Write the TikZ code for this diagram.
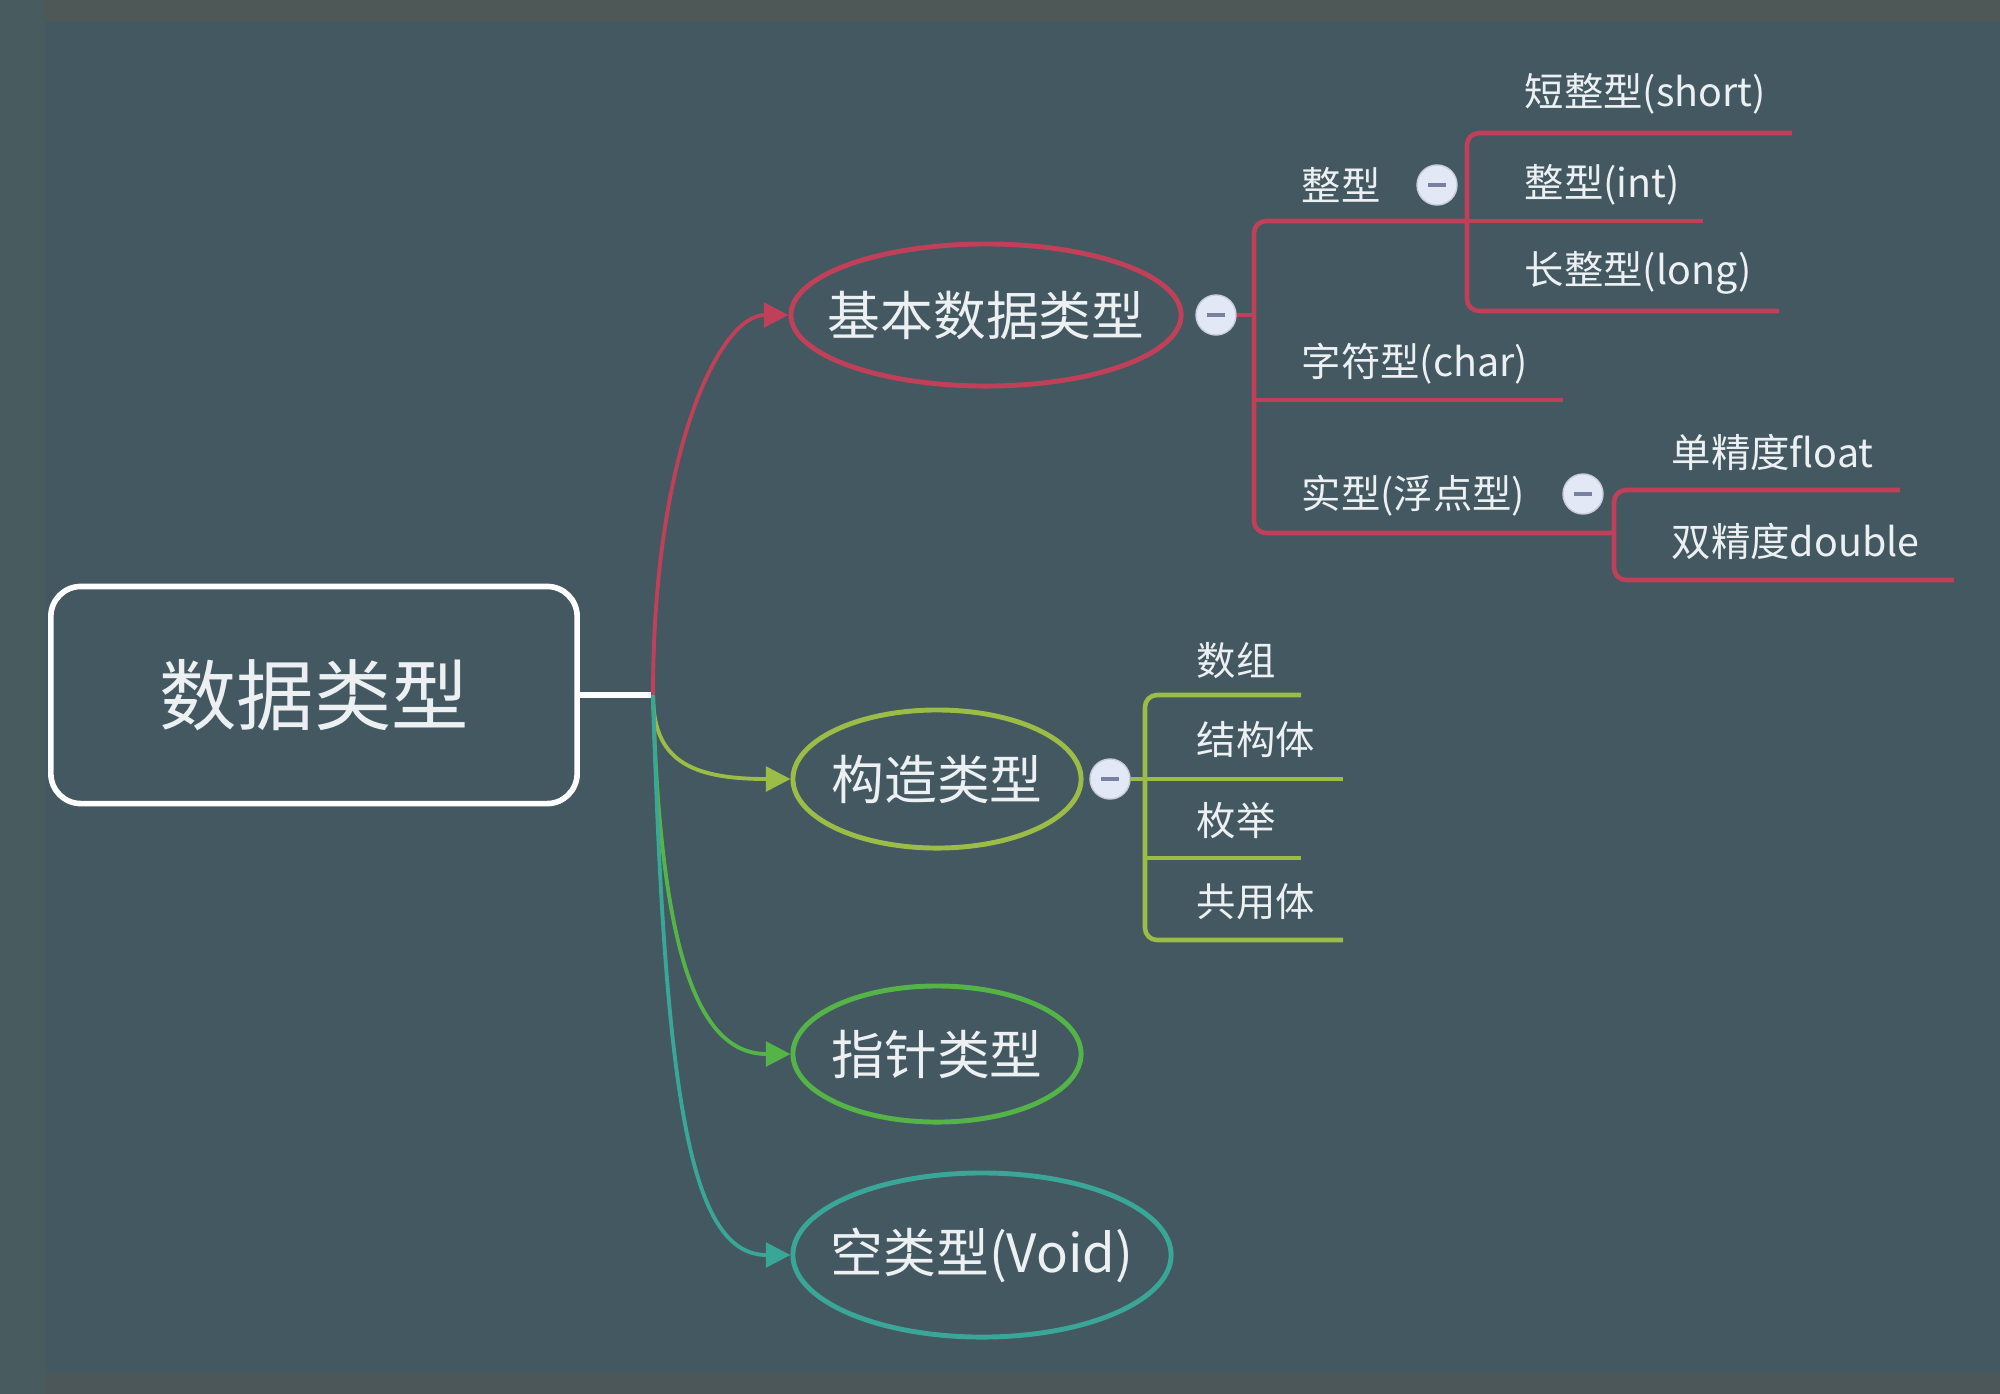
\documentclass[tikz,border=0pt]{standalone}
\usepackage{fontspec}
\setmainfont{Noto Sans CJK SC}
\usetikzlibrary{arrows.meta}
\usetikzlibrary{positioning}
\usetikzlibrary{shapes.geometric}
\definecolor{bgc}{RGB}{67,88,96}
\definecolor{bgtop}{RGB}{78,89,87}
\definecolor{bgleft}{RGB}{72,92,95}
\definecolor{bgbot}{RGB}{75,87,89}
\definecolor{redc}{RGB}{192,64,90}
\definecolor{limec}{RGB}{156,188,72}
\definecolor{greenc}{RGB}{84,180,72}
\definecolor{tealc}{RGB}{58,166,152}
\definecolor{txtc}{RGB}{236,240,242}
\definecolor{btnc}{RGB}{226,232,246}
\definecolor{btnline}{RGB}{120,130,160}

\begin{document}
\begin{tikzpicture}[x=0.01cm, y=-0.01cm, >={Triangle[length=7pt,width=7pt]}, font=\fontsize{11.2}{13}\selectfont, text=txtc]
\tikzstyle{root}=[draw=white, line width=1.6pt, rounded corners=0.3cm, minimum width=5.26cm, minimum height=2.17cm, font=\fontsize{22}{26}\selectfont]
\tikzstyle{topic}=[ellipse, line width=1.4pt, inner sep=0pt]
\tikzstyle{toptext}=[font=\fontsize{15}{18}\selectfont, text=txtc]
\tikzstyle{btn}=[circle, fill=btnc, draw=btnline!40, minimum size=0.4cm, inner sep=0pt, path picture={\draw[btnline, line width=1pt] ([xshift=-2.5pt]path picture bounding box.center) -- ([xshift=2.5pt]path picture bounding box.center);}]
\tikzstyle{leaf}=[anchor=west, inner sep=0pt]
\tikzstyle{link}=[->, line width=1.1pt]
\tikzstyle{tree}=[line width=1.3pt, rounded corners=0.12cm]

% background
\useasboundingbox (0,0) rectangle (2000,1393);
\fill[bgc] (-10,-10) rectangle (2010,1403);
\fill[bgtop] (-10,-10) rectangle (2010,22);
\fill[bgbot] (-10,1373) rectangle (2010,1403);
\fill[bgleft] (-10,-10) rectangle (45,1403);

\node[root] (dtype) at (314,695) {数据类型};
\coordinate (J) at (653,695);
\draw[white, line width=1.5pt] (dtype) -- (J);

\node[topic, draw=redc, minimum width=3.9cm, minimum height=1.42cm, label={[toptext]center:基本数据类型}] (basic) at (986,315) {};
\node[topic, draw=limec, minimum width=2.88cm, minimum height=1.38cm, label={[toptext]center:构造类型}] (cons) at (937,779) {};
\node[topic, draw=greenc, minimum width=2.88cm, minimum height=1.36cm, label={[toptext]center:指针类型}] (ptr) at (937,1054) {};
\node[topic, draw=tealc, minimum width=3.78cm, minimum height=1.64cm, label={[toptext]center:空类型(Void)}] (void) at (982,1255) {};

\draw[link, redc] (J) .. controls (653,450) and (720,315) .. (basic.west);
\draw[link, limec] (J) .. controls (653,760) and (690,779) .. (cons.west);
\draw[link, greenc] (J) .. controls (660,960) and (700,1054) .. (ptr.west);
\draw[link, tealc] (J) .. controls (665,1100) and (690,1255) .. (void.west);

% basic types
\node[btn] (basicB) at (1216,315) {};
\coordinate (bJ) at (1254,315);
\coordinate (intJ) at (1467,221);
\coordinate (charJ) at (1254,400);
\coordinate (charE) at (1563,400);
\coordinate (realJ) at (1614,533);
\draw[tree, redc] (basicB) -- (bJ);
\draw[tree, redc] (intJ) -- (1254,221) -- (1254,533) -- (realJ);
\draw[tree, redc] (charJ) -- (charE);

\node[btn] (intB) at (1437,185) {};
\coordinate (shortE) at (1792,133);
\coordinate (intE) at (1703,221);
\coordinate (longE) at (1779,311);
\draw[tree, redc] (shortE) -- (1467,133) -- (1467,311) -- (longE);
\draw[tree, redc] (intJ) -- (intE);

\node[btn] (realB) at (1583,494) {};
\coordinate (floatE) at (1900,490);
\coordinate (doubleE) at (1954,580);
\draw[tree, redc] (floatE) -- (1614,490) -- (1614,580) -- (doubleE);

\node[leaf] (zx) at (1301,185) {整型};
\node[leaf] (zfx) at (1301,364) {字符型(char)};
\node[leaf] (sx) at (1301,496) {实型(浮点型)};
\node[leaf] (short) at (1524,94) {短整型(short)};
\node[leaf] (int) at (1524,185) {整型(int)};
\node[leaf] (long) at (1524,273) {长整型(long)};
\node[leaf] (float) at (1671,452) {单精度float};
\node[leaf] (double) at (1671,541) {双精度double};

% constructed types
\node[btn] (consB) at (1110,779) {};
\coordinate (cJ) at (1145,779);
\coordinate (arrE) at (1301,695);
\coordinate (structE) at (1343,779);
\coordinate (enumJ) at (1145,858);
\coordinate (enumE) at (1301,858);
\coordinate (unionE) at (1343,940);
\draw[tree, limec] (consB) -- (cJ);
\draw[tree, limec] (arrE) -- (1145,695) -- (1145,940) -- (unionE);
\draw[tree, limec] (cJ) -- (structE);
\draw[tree, limec] (enumJ) -- (enumE);

\node[leaf] (arr) at (1196,661) {数组};
\node[leaf] (struct) at (1196,740) {结构体};
\node[leaf] (enum) at (1196,820) {枚举};
\node[leaf] (union) at (1196,902) {共用体};
\end{tikzpicture}
\end{document}
